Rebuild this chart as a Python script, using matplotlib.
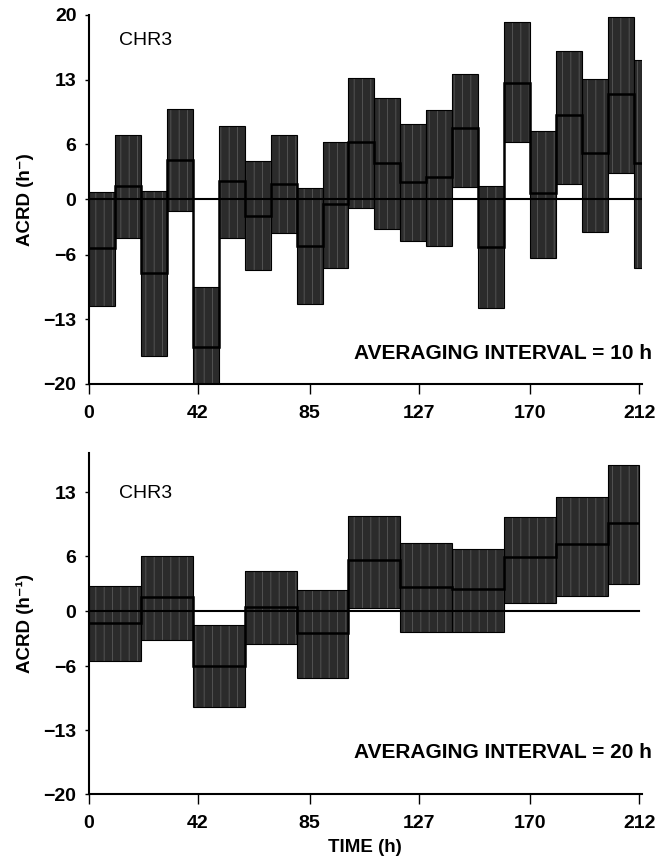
import numpy as np
import matplotlib
matplotlib.use("Agg")
import matplotlib.pyplot as plt

# ---- données : ACRD moyenné sur 10 h et sur 20 h (CHR3) ----
edges_10 = [0, 10, 20, 30, 40, 50, 60, 70, 80, 90, 100, 110, 120, 130, 140,
            150, 160, 170, 180, 190, 200, 210, 213]
high_10 = [0.8, 7.0, 0.9, 9.8, -9.5, 8.0, 4.2, 7.0, 1.2, 6.2, 13.2,
           11.0, 8.2, 9.7, 13.6, 1.5, 19.2, 7.4, 16.1, 13.1, 19.8, 15.1]
mean_10 = [-5.3, 1.5, -8.0, 4.3, -16.0, 2.0, -1.8, 1.7, -5.0, -0.5, 6.2,
           4.0, 1.9, 2.4, 7.7, -5.2, 12.6, 0.7, 9.2, 5.0, 11.4, 3.9]
low_10 = [-11.6, -4.2, -17.0, -1.2, -20.0, -4.2, -7.7, -3.6, -11.3, -7.4, -0.9,
          -3.2, -4.5, -5.0, 1.4, -11.8, 6.2, -6.4, 1.7, -3.5, 2.9, -7.4]

edges_20 = [0, 20, 40, 60, 80, 100, 120, 140, 160, 180, 200, 212]
high_20 = [2.7, 6.0, -1.5, 4.4, 2.3, 10.4, 7.5, 6.8, 10.3, 12.5, 16.0]
mean_20 = [-1.3, 1.5, -6.0, 0.5, -2.4, 5.6, 2.6, 2.4, 5.9, 7.3, 9.6]
low_20 = [-5.5, -3.2, -10.5, -3.6, -7.3, 0.4, -2.3, -2.3, 0.9, 1.7, 3.0]

x_ticks = [0, 42, 85, 127, 170, 212]
y_ticks = [-20, -13, -6, 0, 6, 13, 20]

plt.rcParams["font.family"] = ["Liberation Sans", "DejaVu Sans"]
plt.rcParams["hatch.linewidth"] = 0.6

fig = plt.figure(figsize=(6.66, 8.64), dpi=100)
ax1 = fig.add_axes([0.1336, 0.5556, 0.830, 0.4271])
ax2 = fig.add_axes([0.1336, 0.0810, 0.830, 0.3947])


def draw_panel(ax, edges, high, mean, low, ytop, interval, ylabel, text_y):
    edges = np.array(edges, dtype=float)
    high = np.array(high)
    low = np.array(low)
    widths = np.diff(edges)
    # bandes grisées (intervalle haut/bas) avec stries verticales claires
    ax.bar(edges[:-1], high - low, width=widths, bottom=low, align="edge",
           color="#2b2b2b", edgecolor="#585858", linewidth=0, hatch="||", zorder=2)
    ax.bar(edges[:-1], high - low, width=widths, bottom=low, align="edge",
           fill=False, edgecolor="black", linewidth=0.8, zorder=3)
    # moyenne en escalier
    ax.stairs(mean, edges, baseline=None, color="black", linewidth=1.8, zorder=4)
    ax.plot([0, edges[-1]], [0, 0], color="black", linewidth=1.5, zorder=5)

    ax.set_xlim(0, 213)
    ax.set_ylim(-20, ytop)
    ax.spines["top"].set_visible(False)
    ax.spines["right"].set_visible(False)
    ax.spines["left"].set_linewidth(1.5)
    ax.spines["bottom"].set_linewidth(1.5)
    ax.set_xticks(x_ticks)
    ax.set_yticks([v for v in y_ticks if v <= ytop])
    ax.tick_params(axis="x", length=7, width=1, pad=8, labelsize=14)
    ax.tick_params(axis="y", length=3, width=1, pad=6, labelsize=14)
    for lab in ax.get_xticklabels() + ax.get_yticklabels():
        lab.set_fontweight("bold")
    ax.set_ylabel(ylabel, fontsize=13.5, fontweight="bold", labelpad=7)
    ax.text(0.055, 0.93 if ytop == 20 else 0.88, "CHR3", transform=ax.transAxes,
            fontsize=14, va="center", ha="left")
    ax.text(217, text_y, f"AVERAGING INTERVAL = {interval} h", fontsize=15,
            fontweight="bold", ha="right", va="center", clip_on=False)


draw_panel(ax1, edges_10, high_10, mean_10, low_10, 20, 10, "ACRD (h\u207b)", -16.7)
draw_panel(ax2, edges_20, high_20, mean_20, low_20, 17.3, 20, "ACRD (h\u207b\u00b9)", -15.5)
ax2.set_xlabel("TIME (h)", fontsize=13.5, fontweight="bold", labelpad=5)

fig.savefig("out.png", dpi=100)
